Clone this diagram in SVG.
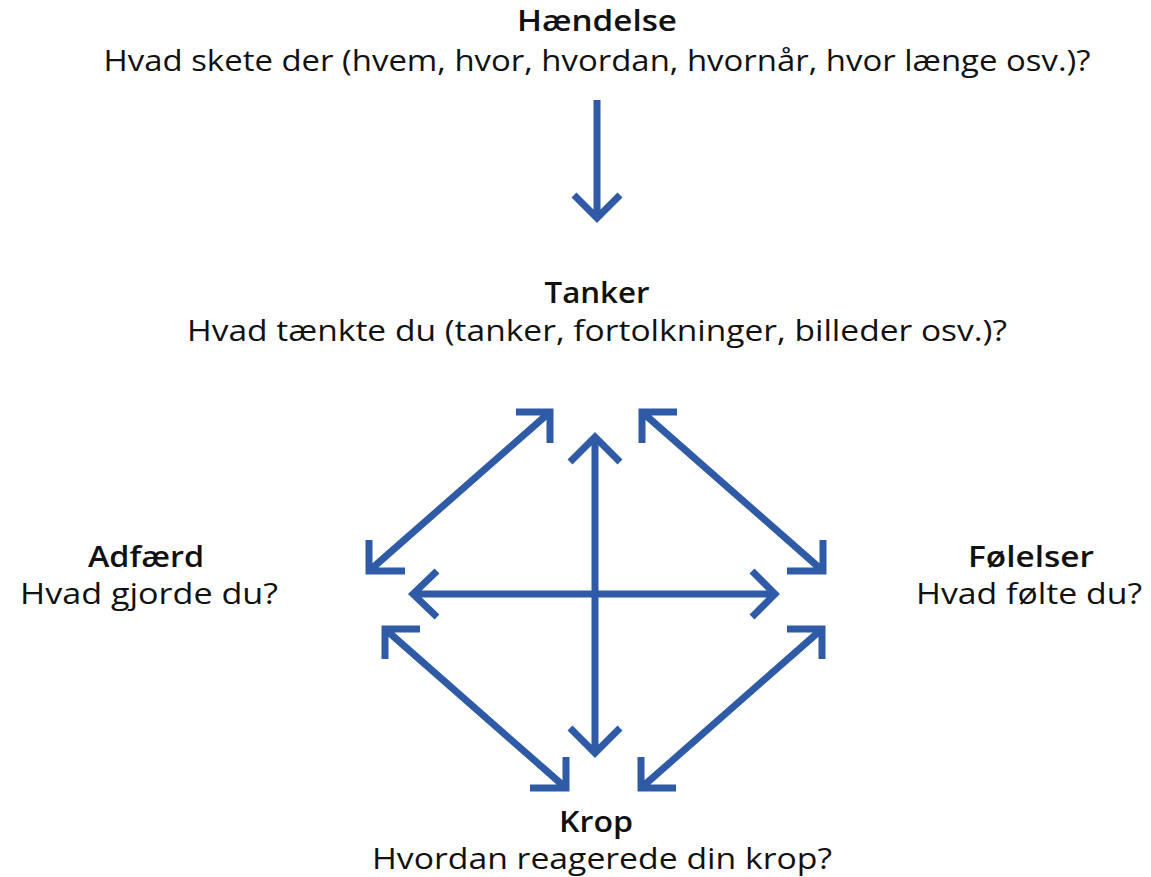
<svg xmlns="http://www.w3.org/2000/svg" width="1151" height="877" viewBox="0 0 1151 877">
<style>
.t{font-family:"Open Sans","Noto Sans","Liberation Sans",sans-serif;font-size:29px;fill:#111;text-anchor:middle}
.b{font-weight:600}
.a{fill:none;stroke:#2f5aa6;stroke-width:7;stroke-linejoin:miter;stroke-linecap:butt}
</style>
<rect width="1151" height="877" fill="#fff"/>
<g id="haendelse">
<text class="t b" x="597" y="31" textLength="160" lengthAdjust="spacingAndGlyphs">Hændelse</text>
<text class="t" x="597" y="71" textLength="987" lengthAdjust="spacingAndGlyphs">Hvad skete der (hvem, hvor, hvordan, hvornår, hvor længe osv.)?</text>
</g>
<g id="tanker">
<text class="t b" x="597" y="303" textLength="105" lengthAdjust="spacingAndGlyphs">Tanker</text>
<text class="t" x="597" y="341" textLength="820" lengthAdjust="spacingAndGlyphs">Hvad tænkte du (tanker, fortolkninger, billeder osv.)?</text>
</g>
<g id="adfaerd">
<text class="t b" x="146" y="567" textLength="116" lengthAdjust="spacingAndGlyphs">Adfærd</text>
<text class="t" x="149" y="604" textLength="258" lengthAdjust="spacingAndGlyphs">Hvad gjorde du?</text>
</g>
<g id="foelelser">
<text class="t b" x="1031" y="567" textLength="126" lengthAdjust="spacingAndGlyphs">Følelser</text>
<text class="t" x="1029" y="604" textLength="226" lengthAdjust="spacingAndGlyphs">Hvad følte du?</text>
</g>
<g id="krop">
<text class="t b" x="596" y="832" textLength="74" lengthAdjust="spacingAndGlyphs">Krop</text>
<text class="t" x="602" y="869" textLength="460" lengthAdjust="spacingAndGlyphs">Hvordan reagerede din krop?</text>
</g>
<g id="connectors">
<path class="a" d="M597,100 V218 M574,195 L597,218 L620,195"/>
<path class="a" d="M595,437 V753 M570,462 L595,437 L620,462 M570,728 L595,753 L620,728"/>
<path class="a" d="M413,594 H775 M437,571 L413,594 L437,617 M752,571 L775,594 L752,617"/>
<path class="a" d="M550,412 L369,571 M516,412 H550 V443 M369,540 V571 H405"/>
<path class="a" d="M642,412 L823,571 M677,412 H642 V443 M823,540 V571 H787"/>
<path class="a" d="M385,629 L566,788 M420,629 H385 V659 M566,757 V788 H530"/>
<path class="a" d="M822,629 L641,788 M787,629 H822 V659 M641,757 V788 H676"/>
</g>
</svg>
